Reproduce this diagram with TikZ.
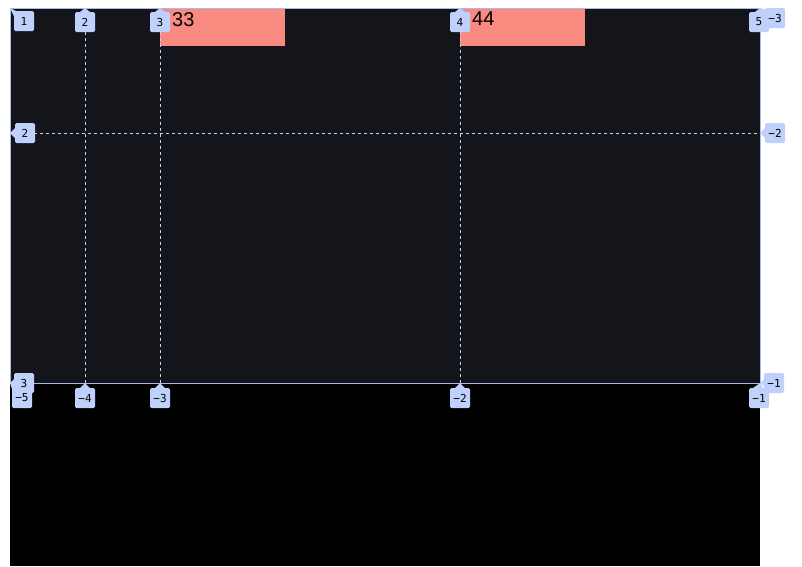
\documentclass[tikz,border=0pt]{standalone}
\usepackage{fontspec}
\newfontfamily\lblfont{DejaVu Sans Mono}
\newfontfamily\cellfont{Liberation Sans}
\definecolor{gridbg}{HTML}{14151B}
\definecolor{gridline}{HTML}{A9B8EF}
\definecolor{dashc}{HTML}{C6D2F2}
\definecolor{lblc}{HTML}{BFD0FB}
\definecolor{salmonc}{HTML}{F88A80}
\tikzset{
  lbl/.style={fill=lblc, rounded corners=1.5pt, inner sep=0pt, minimum width=20pt, minimum height=20pt, font=\lblfont\fontsize{11}{13}\selectfont, text=black},
  ptr/.style={fill=lblc},
  gridl/.style={dashc, line width=0.9pt, dash pattern=on 3pt off 3pt},
  cell/.style={fill=salmonc, inner sep=0pt, minimum width=125pt, minimum height=37pt, anchor=north west},
  celltxt/.style={font=\cellfont\fontsize{20}{24}\selectfont, text=black, anchor=north west, inner sep=0pt}
}
\begin{document}
\begin{tikzpicture}[x=1pt,y=-1pt]
\useasboundingbox (0,0) rectangle (802,566);
\fill[white] (0,0) rectangle (802,566);
% body below
\fill[black] (10,383) rectangle (760,566);
% grid container
\fill[gridbg] (10,8) rectangle (760,383);
% cells
\node[cell] (c33) at (160,8.5) {};
\node[cell] (c44) at (460,8.5) {};
\node[celltxt] (t33) at (172,12) {33};
\node[celltxt] (t44) at (472,12) {44};
% grid line coordinates
\coordinate (v2t) at (85,8);   \coordinate (v2b) at (85,383);
\coordinate (v3t) at (160,8);  \coordinate (v3b) at (160,383);
\coordinate (v4t) at (460,8);  \coordinate (v4b) at (460,383);
\coordinate (h2l) at (10,133); \coordinate (h2r) at (760,133);
\draw[gridl] (v2t) -- (v2b);
\draw[gridl] (v3t) -- (v3b);
\draw[gridl] (v4t) -- (v4b);
\draw[gridl] (h2l) -- (h2r);
\draw[gridline, line width=1pt] (10,8) rectangle (760,383);
% labels: top column numbers
\fill[ptr] (10,8) -- (18,12) -- (14,16) -- cycle;
\node[lbl] (n1) at (24,21) {1};
\fill[ptr] (85,8) -- (80,12) -- (90,12) -- cycle;
\node[lbl] (n2) at (85,22) {2};
\fill[ptr] (160,8) -- (155,12) -- (165,12) -- cycle;
\node[lbl] (n3) at (160,22) {3};
\fill[ptr] (460,8) -- (455,12) -- (465,12) -- cycle;
\node[lbl] (n4) at (460,22) {4};
\fill[ptr] (760,8) -- (755,12) -- (765,12) -- cycle;
\node[lbl] (n5) at (759,22) {5};
\fill[ptr] (760,8) -- (764,14) -- (768,10) -- cycle;
\node[lbl] (m3t) at (775,18) {\char"2212 3};
% row labels
\fill[ptr] (10,133) -- (15,128) -- (15,138) -- cycle;
\node[lbl] (r2) at (25,133) {2};
\fill[ptr] (760,133) -- (765,128) -- (765,138) -- cycle;
\node[lbl] (rm2) at (775,133) {\char"2212 2};
\fill[ptr] (10,383) -- (15,378) -- (15,388) -- cycle;
\node[lbl] (r3) at (24,383) {3};
\fill[ptr] (760,383) -- (766,378) -- (766,388) -- cycle;
\node[lbl] (rm1) at (774,383) {\char"2212 1};
% bottom column negatives
\fill[ptr] (10,383) -- (13,392) -- (18,388) -- cycle;
\node[lbl] (cm5) at (22,398) {\char"2212 5};
\fill[ptr] (85,383) -- (80,388) -- (90,388) -- cycle;
\node[lbl] (cm4) at (85,398) {\char"2212 4};
\fill[ptr] (160,383) -- (155,388) -- (165,388) -- cycle;
\node[lbl] (cm3) at (160,398) {\char"2212 3};
\fill[ptr] (460,383) -- (455,388) -- (465,388) -- cycle;
\node[lbl] (cm2) at (460,398) {\char"2212 2};
\fill[ptr] (760,383) -- (753,388) -- (764,390) -- cycle;
\node[lbl] (cm1) at (759,398) {\char"2212 1};
\end{tikzpicture}
\end{document}
